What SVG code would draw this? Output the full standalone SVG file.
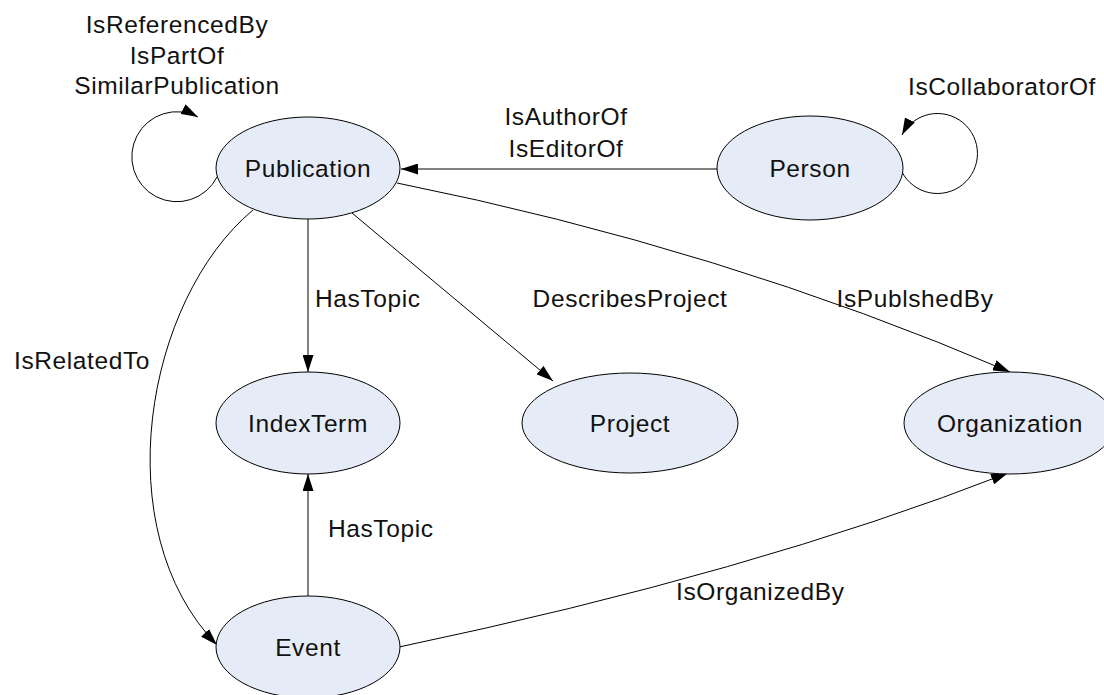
<svg xmlns="http://www.w3.org/2000/svg" width="1104" height="695" viewBox="0 0 1104 695">
<style>
  .node ellipse { fill: #E6ECF7; stroke: #000; stroke-width: 1; }
  text { font-family: "Liberation Sans", Arial, sans-serif; font-size: 24.5px; letter-spacing: 0.6px; fill: #111; }
  .c { text-anchor: middle; }
  .edge { fill: none; stroke: #000; stroke-width: 1; marker-end: url(#arr); }
</style>
<defs>
  <marker id="arr" viewBox="0 0 17 11" refX="17" refY="5.5" markerWidth="17" markerHeight="11" markerUnits="userSpaceOnUse" orient="auto">
    <path d="M0,0 L17,5.5 L0,11 z" fill="#000"/>
  </marker>
</defs>
<rect width="1104" height="695" fill="#fff"/>
<g id="connectors">
  <path class="edge" d="M 217,177 A 45 45 0 1 1 198,117"/>
  <path class="edge" d="M 902,172 A 40 40 0 1 0 902,135"/>
  <path class="edge" d="M 717,169 L 401,169"/>
  <path class="edge" d="M 308,219 L 308,372"/>
  <path class="edge" d="M 352,213 L 553,381"/>
  <path class="edge" d="M 397,183 Q 721,248 1010,372"/>
  <path class="edge" d="M 253,210 C 145,300 105,530 217,645"/>
  <path class="edge" d="M 308,596 L 308,474"/>
  <path class="edge" d="M 399,647 Q 752,573 1008,473"/>
  <text class="c" x="177" y="33">IsReferencedBy</text>
  <text class="c" x="177" y="64">IsPartOf</text>
  <text class="c" x="177" y="94">SimilarPublication</text>
  <text class="c" x="1002" y="95">IsCollaboratorOf</text>
  <text class="c" x="566" y="125">IsAuthorOf</text>
  <text class="c" x="566" y="157">IsEditorOf</text>
  <text x="315" y="307">HasTopic</text>
  <text class="c" x="630" y="307">DescribesProject</text>
  <text class="c" x="915" y="307">IsPublshedBy</text>
  <text x="14" y="369">IsRelatedTo</text>
  <text x="328" y="537">HasTopic</text>
  <text x="676" y="600">IsOrganizedBy</text>
</g>
<g id="node-publication" class="node">
  <ellipse cx="308" cy="168" rx="92" ry="51"/>
  <text class="c" x="308" y="177">Publication</text>
</g>
<g id="node-person" class="node">
  <ellipse cx="810" cy="168" rx="93" ry="52"/>
  <text class="c" x="810" y="177">Person</text>
</g>
<g id="node-indexterm" class="node">
  <ellipse cx="308" cy="423" rx="92" ry="51"/>
  <text class="c" x="308" y="432">IndexTerm</text>
</g>
<g id="node-project" class="node">
  <ellipse cx="630" cy="423" rx="108" ry="50"/>
  <text class="c" x="630" y="432">Project</text>
</g>
<g id="node-organization" class="node">
  <ellipse cx="1010" cy="423" rx="106" ry="51"/>
  <text class="c" x="1010" y="432">Organization</text>
</g>
<g id="node-event" class="node">
  <ellipse cx="308" cy="647" rx="92" ry="51"/>
  <text class="c" x="308" y="656">Event</text>
</g>
</svg>
